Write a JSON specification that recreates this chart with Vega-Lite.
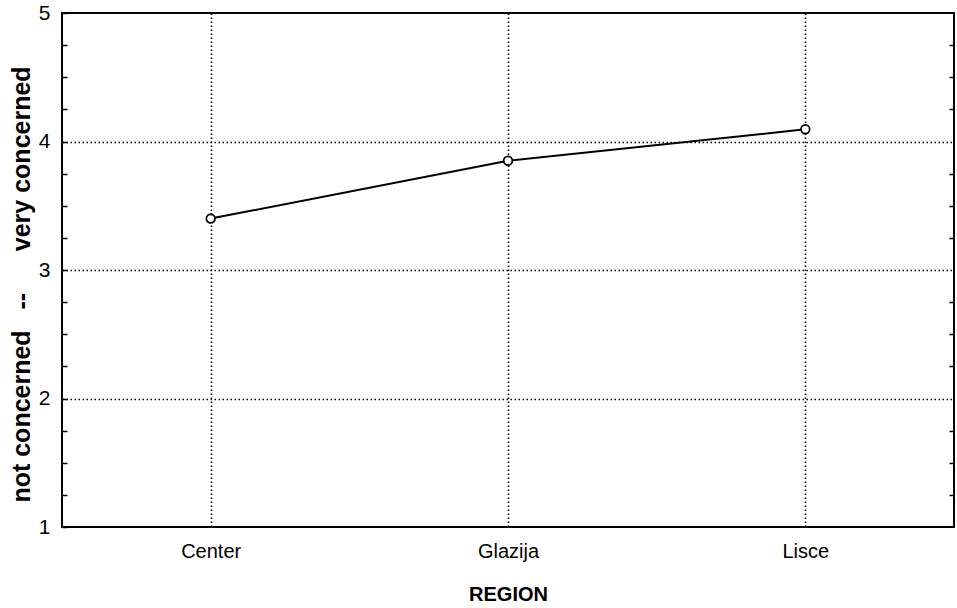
{
  "$schema": "https://vega.github.io/schema/vega-lite/v6.json",
  "autosize": {"type": "none"},
  "padding": {"left": 62, "top": 13, "right": 3, "bottom": 81},
  "width": 892,
  "height": 514,
  "background": "white",
  "config": {
    "view": {"stroke": "black", "strokeWidth": 2},
    "font": "Liberation Sans",
    "axis": {"domain": false}
  },
  "data": {
    "values": [
      {"region": "Center", "score": 3.40},
      {"region": "Glazija", "score": 3.85},
      {"region": "Lisce", "score": 4.095}
    ]
  },
  "encoding": {
    "x": {
      "field": "region",
      "type": "nominal",
      "sort": null,
      "scale": {"type": "point", "padding": 0.5},
      "axis": {
        "title": "REGION",
        "titleFont": "Liberation Sans",
        "titleFontSize": 20,
        "titleFontWeight": "bold",
        "titleColor": "black",
        "titlePadding": 23,
        "labelAngle": 0,
        "labelFontSize": 20,
        "labelColor": "black",
        "labelPadding": 14,
        "ticks": false,
        "grid": true,
        "gridColor": "black",
        "gridDash": [1.5, 2.5],
        "gridWidth": 1.6,
        "gridOpacity": 1
      }
    },
    "y": {
      "field": "score",
      "type": "quantitative",
      "scale": {"domain": [1, 5], "nice": false, "zero": false}
    }
  },
  "layer": [
    {
      "mark": {"type": "line", "color": "black", "strokeWidth": 2},
      "encoding": {
        "y": {
          "field": "score",
          "type": "quantitative",
          "scale": {"domain": [1, 5], "nice": false, "zero": false},
          "axis": {
            "orient": "left",
            "values": [1, 1.25, 1.5, 1.75, 2, 2.25, 2.5, 2.75, 3, 3.25, 3.5, 3.75, 4, 4.25, 4.5, 4.75, 5],
            "labelExpr": "datum.value % 1 === 0 ? format(datum.value, 'd') : ''",
            "labelFontSize": 21,
            "labelColor": "black",
            "labelPadding": 17,
            "ticks": true,
            "tickSize": -5,
            "tickColor": "black",
            "tickWidth": 1.5,
            "grid": true,
            "gridColor": "black",
            "gridDash": [1.5, 2.5],
            "gridWidth": 1.6,
            "gridOpacity": {"condition": {"test": "datum.value % 1 === 0 && datum.value > 1 && datum.value < 5", "value": 1}, "value": 0},
            "title": "not concerned\u00a0\u00a0\u00a0--\u00a0\u00a0\u00a0\u00a0\u00a0\u00a0very concerned",
            "titleFont": "Liberation Sans",
            "titleFontSize": 25,
            "titleFontWeight": "bold",
            "titleColor": "black",
            "titleAngle": -90,
            "titleBaseline": "alphabetic",
            "titleX": -33,
            "titleY": 271,
            "titleAlign": "center"
          }
        }
      }
    },
    {
      "mark": {"type": "point", "shape": "circle", "filled": true, "fill": "white", "stroke": "black", "strokeWidth": 1.8, "size": 75, "opacity": 1},
      "encoding": {
        "y": {
          "field": "score",
          "type": "quantitative",
          "scale": {"domain": [1, 5], "nice": false, "zero": false},
          "axis": {
            "orient": "right",
            "values": [1.25, 1.5, 1.75, 2.25, 2.5, 2.75, 3.25, 3.5, 3.75, 4.25, 4.5, 4.75],
            "labels": false,
            "ticks": true,
            "tickSize": -5,
            "tickColor": "black",
            "tickWidth": 1.5,
            "grid": false,
            "title": null
          }
        }
      }
    }
  ],
  "resolve": {"axis": {"y": "independent"}}
}
